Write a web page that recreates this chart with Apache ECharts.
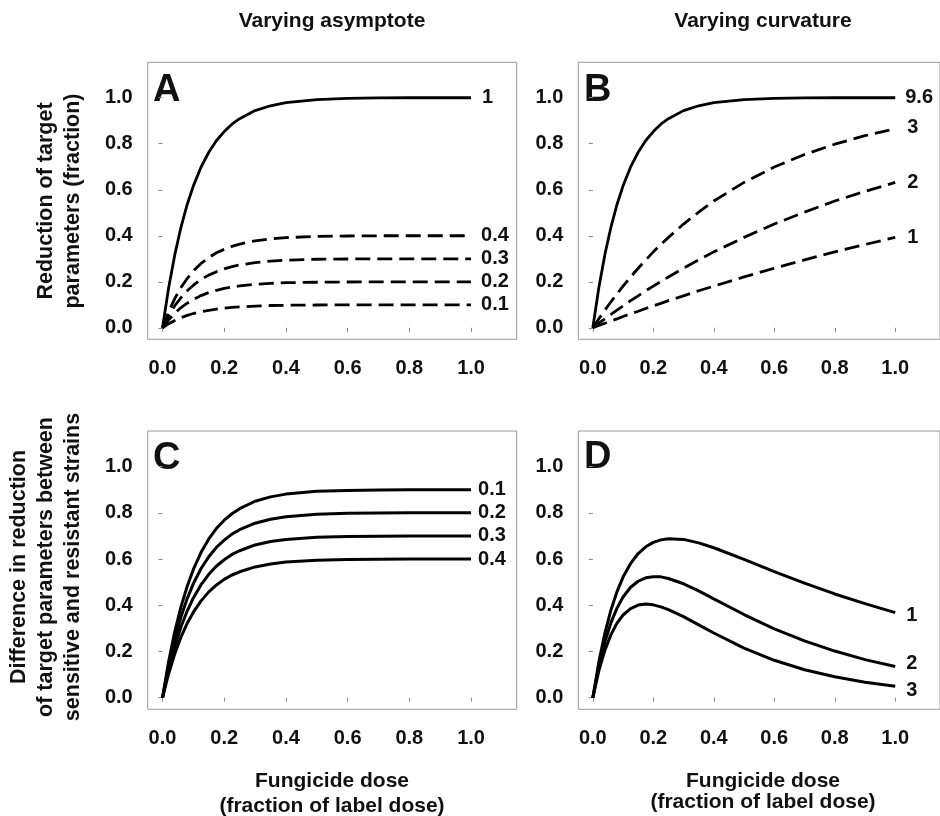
<!DOCTYPE html>
<html>
<head>
<meta charset="utf-8">
<script src="https://cdn.jsdelivr.net/npm/echarts@6/dist/echarts.min.js"></script>
<style>
html,body{margin:0;padding:0;background:#fff;}
#chart{width:940px;height:816px;}
</style>
</head>
<body>
<div id="chart"></div>
<script>
// ---- data ----
const doses = [0, 0.02, 0.04, 0.06, 0.08, 0.1, 0.125, 0.15, 0.175, 0.2, 0.225, 0.25, 0.3, 0.35, 0.4, 0.5, 0.6, 0.7, 0.8, 0.9, 1.0];
const tickValues = [0, 0.2, 0.4, 0.6, 0.8, 1.0];

// Panel A: varying asymptote
const aNames = ['1', '0.4', '0.3', '0.2', '0.1'];
const aAsym1  = [0, 0.175, 0.319, 0.438, 0.536, 0.617, 0.699, 0.763, 0.814, 0.853, 0.885, 0.909, 0.944, 0.965, 0.979, 0.992, 0.997, 0.999, 1.0, 1.0, 1.0];
const aAsym04 = [0, 0.070, 0.128, 0.175, 0.214, 0.247, 0.280, 0.305, 0.326, 0.341, 0.354, 0.364, 0.378, 0.386, 0.392, 0.397, 0.399, 0.4, 0.4, 0.4, 0.4];
const aAsym03 = [0, 0.053, 0.096, 0.131, 0.161, 0.185, 0.210, 0.229, 0.244, 0.256, 0.266, 0.273, 0.283, 0.290, 0.294, 0.298, 0.299, 0.3, 0.3, 0.3, 0.3];
const aAsym02 = [0, 0.035, 0.064, 0.088, 0.107, 0.123, 0.140, 0.153, 0.163, 0.171, 0.177, 0.182, 0.189, 0.193, 0.196, 0.198, 0.199, 0.2, 0.2, 0.2, 0.2];
const aAsym01 = [0, 0.018, 0.032, 0.044, 0.054, 0.062, 0.070, 0.076, 0.081, 0.085, 0.089, 0.091, 0.094, 0.097, 0.098, 0.099, 0.1, 0.1, 0.1, 0.1, 0.1];

// Panel B: varying curvature
const bNames = ['9.6', '3', '2', '1'];
const bCurv96 = [0, 0.175, 0.319, 0.438, 0.536, 0.617, 0.699, 0.763, 0.814, 0.853, 0.885, 0.909, 0.944, 0.965, 0.979, 0.992, 0.997, 0.999, 1.0, 1.0, 1.0];
const bCurv3  = [0, 0.039, 0.077, 0.113, 0.148, 0.181, 0.221, 0.259, 0.295, 0.330, 0.362, 0.393, 0.451, 0.503, 0.551, 0.632, 0.699, 0.753, 0.798, 0.835, 0.865];
const bCurv2  = [0, 0.020, 0.039, 0.058, 0.077, 0.095, 0.118, 0.139, 0.161, 0.181, 0.201, 0.221, 0.259, 0.295, 0.330, 0.393, 0.451, 0.503, 0.551, 0.593, 0.632];
const bCurv1  = [0, 0.010, 0.020, 0.030, 0.039, 0.049, 0.061, 0.072, 0.084, 0.095, 0.106, 0.118, 0.139, 0.161, 0.181, 0.221, 0.259, 0.295, 0.330, 0.362, 0.393];

// Panel C: difference, varying asymptote
const cNames = ['0.1', '0.2', '0.3', '0.4'];
const cDiff01 = [0, 0.158, 0.287, 0.394, 0.482, 0.555, 0.629, 0.687, 0.733, 0.768, 0.796, 0.818, 0.850, 0.869, 0.881, 0.893, 0.897, 0.899, 0.9, 0.9, 0.9];
const cDiff02 = [0, 0.140, 0.255, 0.350, 0.429, 0.494, 0.559, 0.610, 0.651, 0.682, 0.708, 0.727, 0.755, 0.772, 0.783, 0.794, 0.798, 0.799, 0.8, 0.8, 0.8];
const cDiff03 = [0, 0.123, 0.223, 0.307, 0.375, 0.432, 0.489, 0.534, 0.570, 0.597, 0.620, 0.636, 0.661, 0.676, 0.685, 0.694, 0.698, 0.699, 0.7, 0.7, 0.7];
const cDiff04 = [0, 0.105, 0.191, 0.263, 0.322, 0.370, 0.419, 0.458, 0.488, 0.512, 0.531, 0.545, 0.566, 0.579, 0.587, 0.595, 0.598, 0.599, 0.6, 0.6, 0.6];

// Panel D: difference, varying curvature
const dNames = ['1', '2', '3'];
const dDiff1 = [0, 0.155, 0.280, 0.380, 0.459, 0.522, 0.581, 0.624, 0.653, 0.672, 0.683, 0.688, 0.685, 0.670, 0.649, 0.599, 0.546, 0.496, 0.449, 0.407, 0.368];
const dDiff2 = [0, 0.136, 0.242, 0.325, 0.388, 0.436, 0.478, 0.504, 0.519, 0.523, 0.523, 0.516, 0.493, 0.462, 0.428, 0.360, 0.298, 0.246, 0.202, 0.165, 0.135];
const dDiff3 = [0, 0.117, 0.206, 0.273, 0.323, 0.358, 0.386, 0.401, 0.406, 0.402, 0.393, 0.381, 0.351, 0.315, 0.280, 0.215, 0.162, 0.121, 0.091, 0.067, 0.050];

// ---- chart ----
const FONT = '"Liberation Sans", Arial, Helvetica, sans-serif';
const chart = echarts.init(document.getElementById('chart'), null, {renderer: 'canvas'});

const grids = [
  {left: 147.7, top: 62.3, width: 369, height: 277},
  {left: 578.3, top: 62.3, width: 369, height: 277},
  {left: 147.7, top: 431, width: 369, height: 278.3},
  {left: 578.3, top: 431, width: 369, height: 278.3}
];

function makeX(i) {
  return {
    type: 'value', gridIndex: i, min: -0.048, max: 1.148,
    axisLine: {show: false},
    axisTick: {show: true, customValues: tickValues, length: 4, lineStyle: {color: '#888', width: 1}},
    axisLabel: {customValues: tickValues, formatter: v => v.toFixed(1), fontFamily: FONT, fontSize: 20, fontWeight: 'bold', color: '#111', margin: 19},
    splitLine: {show: false}
  };
}
function makeY(i) {
  return {
    type: 'value', gridIndex: i, min: -0.05, max: 1.154,
    axisLine: {show: false},
    axisTick: {show: true, customValues: tickValues, length: 4, lineStyle: {color: '#888', width: 1}},
    axisLabel: {customValues: tickValues, formatter: v => v.toFixed(1), fontFamily: FONT, fontSize: 20, fontWeight: 'bold', color: '#111', margin: 15},
    splitLine: {show: false}
  };
}

function line(gi, name, vals, dashed, width, dist, off) {
  return {
    type: 'line', xAxisIndex: gi, yAxisIndex: gi, name: name,
    data: doses.map((d, k) => [d, vals[k]]),
    showSymbol: false, symbol: 'none', smooth: false,
    lineStyle: {color: '#000', width: width, type: dashed ? [15, 7] : 'solid', cap: 'butt', join: 'round'},
    endLabel: {show: true, formatter: name, distance: dist, offset: [0, off || 0], fontFamily: FONT, fontSize: 20, fontWeight: 'bold', color: '#111'},
    silent: true, z: 3
  };
}

const series = [
  line(0, aNames[0], aAsym1, false, 2.8, 11),
  line(0, aNames[1], aAsym04, true, 2.8, 10),
  line(0, aNames[2], aAsym03, true, 2.8, 10),
  line(0, aNames[3], aAsym02, true, 2.8, 10),
  line(0, aNames[4], aAsym01, true, 2.8, 10),
  line(1, bNames[0], bCurv96, false, 2.8, 10),
  line(1, bNames[1], bCurv3, true, 2.8, 12, -1),
  line(1, bNames[2], bCurv2, true, 2.8, 12),
  line(1, bNames[3], bCurv1, true, 2.8, 12),
  line(2, cNames[0], cDiff01, false, 3, 7),
  line(2, cNames[1], cDiff02, false, 3, 7),
  line(2, cNames[2], cDiff03, false, 3, 7),
  line(2, cNames[3], cDiff04, false, 3, 7),
  line(3, dNames[0], dDiff1, false, 3, 11, 3),
  line(3, dNames[1], dDiff2, false, 3, 11, -3),
  line(3, dNames[2], dDiff3, false, 3, 11, 4)
];

function txt(x, y, text, size, extra) {
  return {
    type: 'text', x: x, y: y, silent: true,
    style: Object.assign({text: text, font: 'bold ' + size + 'px ' + FONT, fill: '#111', align: 'center', verticalAlign: 'middle'}, extra || {})
  };
}
function vtxt(x, y, text, size, lh) {
  return {
    type: 'text', x: x, y: y, rotation: Math.PI / 2, silent: true,
    style: {text: text, font: 'bold ' + size + 'px ' + FONT, fill: '#111', align: 'center', verticalAlign: 'middle', lineHeight: lh}
  };
}

const graphics = [
  txt(332, 21, 'Varying asymptote', 21),
  txt(763, 21, 'Varying curvature', 21),
  txt(153, 91, 'A', 38, {align: 'left'}),
  txt(584, 91, 'B', 38, {align: 'left'}),
  txt(153, 459, 'C', 38, {align: 'left'}),
  txt(584, 458, 'D', 38, {align: 'left'}),
  vtxt(59.5, 201, 'Reduction of target\nparameters (fraction)', 21.5, 27),
  vtxt(46, 567, 'Difference in reduction\nof target parameters between\nsensitive and resistant strains', 21.5, 27.3),
  txt(332, 781, 'Fungicide dose', 21),
  txt(332, 806, '(fraction of label dose)', 21),
  txt(763, 781, 'Fungicide dose', 21),
  txt(763, 802, '(fraction of label dose)', 21)
];

chart.setOption({
  animation: false,
  backgroundColor: '#fff',
  textStyle: {fontFamily: FONT},
  grid: grids.map(g => Object.assign({show: true, borderColor: '#999', borderWidth: 1, backgroundColor: 'transparent', containLabel: false}, g)),
  xAxis: [0, 1, 2, 3].map(makeX),
  yAxis: [0, 1, 2, 3].map(makeY),
  series: series,
  graphic: graphics
});
</script>
</body>
</html>
